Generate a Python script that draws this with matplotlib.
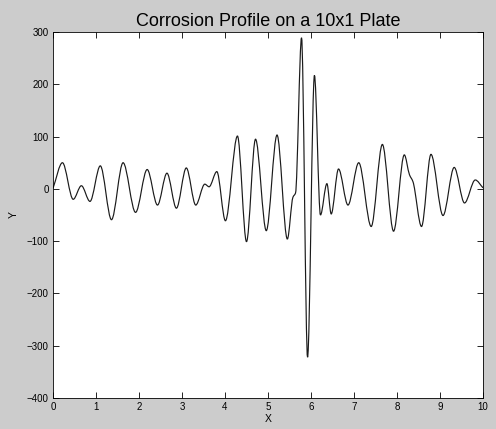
import numpy as np
import matplotlib.pyplot as plt
from matplotlib.path import Path
from matplotlib.patches import PathPatch

plt.rcParams['font.family'] = ['Liberation Sans', 'DejaVu Sans']

# peaks, troughs and shoulders
x_pts = [0.00, 0.22, 0.47, 0.66, 0.86, 1.10, 1.36, 1.63, 1.92, 2.19,
         2.43, 2.65, 2.87, 3.10, 3.32, 3.53, 3.63, 3.81, 4.01, 4.29,
         4.50, 4.71, 4.96, 5.21, 5.45, 5.58, 5.64, 5.78, 5.92, 6.08,
         6.22, 6.37, 6.47, 6.64, 6.86, 7.11, 7.40, 7.66, 7.92, 8.17,
         8.29, 8.37, 8.57, 8.79, 9.07, 9.33, 9.57, 9.82, 10.00]
y_pts = [1, 50, -20, 6, -24, 44, -59, 50, -45, 37,
         -31, 30, -37, 40, -31, 9, 4, 33, -61, 101,
         -101, 95, -80, 103, -96, -16, -8, 289, -322, 217,
         -50, 10, -48, 38, -31, 50, -72, 85, -81, 65,
         27, 14, -72, 66, -51, 41, -27, 17, 2]


def pchip_slopes(x, y):
    x = np.asarray(x, float)
    y = np.asarray(y, float)
    h = np.diff(x)
    d = np.diff(y) / h
    m = np.zeros_like(y)
    for i in range(1, len(x) - 1):
        if d[i - 1] * d[i] > 0:
            w1 = 2 * h[i] + h[i - 1]
            w2 = h[i] + 2 * h[i - 1]
            m[i] = (w1 + w2) / (w1 / d[i - 1] + w2 / d[i])
    m[0] = d[0]
    m[-1] = d[-1]
    return m


def profile_path(x, y):
    m = pchip_slopes(x, y)
    verts = [(x[0], y[0])]
    codes = [Path.MOVETO]
    for i in range(len(x) - 1):
        h = x[i + 1] - x[i]
        verts += [(x[i] + h / 3, y[i] + m[i] * h / 3),
                  (x[i + 1] - h / 3, y[i + 1] - m[i + 1] * h / 3),
                  (x[i + 1], y[i + 1])]
        codes += [Path.CURVE4] * 3
    return Path(verts, codes)


fig = plt.figure(figsize=(4.96, 4.29), dpi=100, facecolor=(0.8, 0.8, 0.8))
ax = fig.add_axes([53 / 496, 31 / 429, 430 / 496, 366 / 429])

ax.add_patch(PathPatch(profile_path(x_pts, y_pts), fill=False,
                       edgecolor='#1a1a1a', linewidth=0.85))

ax.set_xlim(0, 10)
ax.set_ylim(-400, 300)
ax.set_xticks(range(0, 11))
ax.set_yticks(range(-400, 301, 100))
ax.tick_params(direction='in', top=True, right=True, length=4,
               width=0.6, labelsize=7, pad=3)
for s in ax.spines.values():
    s.set_linewidth(0.6)

ax.set_xlabel('X', fontsize=7.5, labelpad=1)
ax.set_ylabel('Y', fontsize=7.5, labelpad=6)
ax.set_title('Corrosion Profile on a 10x1 Plate', fontsize=13, pad=4)

fig.savefig('out.png', dpi=100, facecolor=fig.get_facecolor())
